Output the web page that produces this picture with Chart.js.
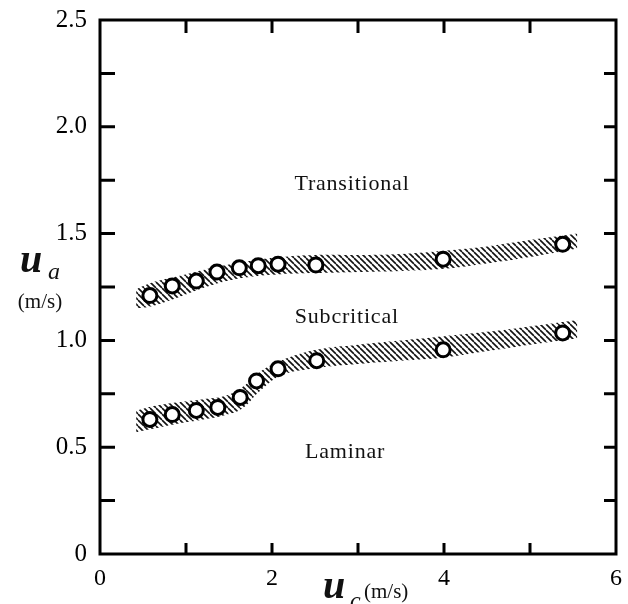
<!DOCTYPE html>
<html>
<head>
<meta charset="utf-8">
<script src="https://cdn.jsdelivr.net/npm/chart.js@4.4.1/dist/chart.umd.min.js"></script>
<style>
  body { margin: 0; background: #fff; }
  #wrap { width: 628px; height: 604px; }
</style>
</head>
<body>
<div id="wrap"><canvas id="chart" width="628" height="604"></canvas></div>
<script>
// measured points (u_c, u_a)
const upperX = [0.58, 0.84, 1.12, 1.36, 1.62, 1.84, 2.07, 2.51, 3.99, 5.38]
const upperY = [1.21, 1.255, 1.278, 1.32, 1.34, 1.35, 1.357, 1.353, 1.38, 1.45]
const lowerX = [0.58, 0.84, 1.12, 1.37, 1.63, 1.82, 2.07, 2.52, 3.99, 5.38]
const lowerY = [0.63, 0.653, 0.672, 0.686, 0.733, 0.81, 0.867, 0.905, 0.956, 1.035]

// hatched bands (edges)
const upperBandX = [0.42, 0.6, 0.9, 1.2, 1.5, 1.8, 2.1, 2.5, 3.0, 3.5, 4.0, 4.5, 5.0, 5.55]
const upperBandTop = [1.24, 1.27, 1.30, 1.33, 1.355, 1.375, 1.39, 1.40, 1.40, 1.405, 1.42, 1.44, 1.47, 1.50]
const upperBandBot = [1.15, 1.16, 1.20, 1.245, 1.28, 1.30, 1.31, 1.315, 1.32, 1.325, 1.335, 1.36, 1.39, 1.43]
const lowerBandX = [0.42, 0.6, 0.9, 1.2, 1.45, 1.65, 1.85, 2.1, 2.5, 3.0, 3.5, 4.0, 4.5, 5.0, 5.55]
const lowerBandTop = [0.67, 0.69, 0.71, 0.725, 0.74, 0.78, 0.85, 0.905, 0.955, 0.98, 1.0, 1.02, 1.04, 1.065, 1.095]
const lowerBandBot = [0.57, 0.585, 0.61, 0.63, 0.65, 0.68, 0.76, 0.835, 0.87, 0.89, 0.905, 0.92, 0.95, 0.98, 1.01]

// region labels
const regionNames = ['Transitional', 'Subcritical', 'Laminar']
const regionX = [2.93, 2.87, 2.85]
const regionY = [1.73, 1.11, 0.476]

// minor tick positions
const yTickVals = [0.25, 0.5, 0.75, 1.0, 1.25, 1.5, 1.75, 2.0, 2.25]
const xTickVals = [1, 2, 3, 4, 5]

function pts(xs, ys) {
    return xs.map((x, i) => ({x: x, y: ys[i]}))
}

function hatch() {
    const s = 6
    const c = document.createElement('canvas')
    c.width = s; c.height = s
    const g = c.getContext('2d')
    g.strokeStyle = '#111'
    g.lineWidth = 1.6
    for (let k = -s; k <= s; k += s) {
        g.beginPath()
        g.moveTo(k, 0)
        g.lineTo(k + s, s)
        g.stroke()
    }
    return g.createPattern(c, 'repeat')
}
const pattern = hatch()

function circleSet(xs, ys) {
    return {
        data: pts(xs, ys),
        showLine: false,
        pointRadius: 7,
        pointBorderWidth: 3,
        pointBorderColor: '#000',
        pointBackgroundColor: '#fff',
        order: 0
    }
}
function bandEdge(xs, ys, fill) {
    return {
        data: pts(xs, ys),
        showLine: true,
        borderWidth: 0,
        borderColor: 'rgba(0,0,0,0)',
        pointRadius: 0,
        tension: 0.4,
        fill: fill,
        backgroundColor: pattern,
        order: 5
    }
}

const serif = '"Liberation Serif", "DejaVu Serif", serif'

const decor = {
    id: 'decor',
    afterDatasetsDraw(chart) {
        const ctx = chart.ctx
        const a = chart.chartArea
        const xs = chart.scales.x, ys = chart.scales.y
        ctx.save()
        ctx.strokeStyle = '#000'
        ctx.lineWidth = 3
        ctx.strokeRect(a.left, a.top, a.right - a.left, a.bottom - a.top)
        ctx.beginPath()
        yTickVals.forEach(v => {
            const py = ys.getPixelForValue(v)
            ctx.moveTo(a.left, py); ctx.lineTo(a.left + 15, py)
            ctx.moveTo(a.right, py); ctx.lineTo(a.right - 12, py)
        })
        xTickVals.forEach(v => {
            const px = xs.getPixelForValue(v)
            ctx.moveTo(px, a.bottom); ctx.lineTo(px, a.bottom - 11)
            ctx.moveTo(px, a.top); ctx.lineTo(px, a.top + 13)
        })
        ctx.stroke()

        ctx.fillStyle = '#111'
        ctx.font = '22px ' + serif
        ctx.letterSpacing = '0.8px'
        ctx.textAlign = 'center'
        ctx.textBaseline = 'middle'
        regionNames.forEach((t, i) => {
            ctx.fillText(t, xs.getPixelForValue(regionX[i]), ys.getPixelForValue(regionY[i]))
        })
        ctx.letterSpacing = '0px'

        // axis titles
        ctx.textAlign = 'left'
        ctx.textBaseline = 'alphabetic'
        ctx.font = 'italic bold 40px ' + serif
        ctx.fillText('u', 20, 272)
        ctx.font = 'italic 24px ' + serif
        ctx.fillText('a', 48, 279)
        ctx.font = '21px ' + serif
        ctx.textAlign = 'center'
        ctx.fillText('(m/s)', 40, 308)

        ctx.textAlign = 'left'
        ctx.font = 'italic bold 40px ' + serif
        ctx.fillText('u', 323, 598)
        ctx.font = 'italic 24px ' + serif
        ctx.fillText('c', 350, 608)
        ctx.font = '21px ' + serif
        ctx.fillText('(m/s)', 364, 598)
        ctx.restore()
    }
}

new Chart(document.getElementById('chart'), {
    type: 'scatter',
    data: {
        datasets: [
            circleSet(upperX, upperY),
            circleSet(lowerX, lowerY),
            bandEdge(upperBandX, upperBandTop, '+1'),
            bandEdge(upperBandX, upperBandBot, false),
            bandEdge(lowerBandX, lowerBandTop, '+1'),
            bandEdge(lowerBandX, lowerBandBot, false)
        ]
    },
    options: {
        responsive: false,
        animation: false,
        layout: { padding: { top: 9, right: 12, left: 0, bottom: 0 } },
        plugins: { legend: { display: false }, tooltip: { enabled: false } },
        scales: {
            x: {
                type: 'linear', min: 0, max: 6,
                grid: { display: false },
                border: { display: false },
                afterFit: s => { s.height = 50 },
                ticks: {
                    stepSize: 2, padding: 2, color: '#000',
                    font: { family: serif, size: 24 },
                    callback: v => String(v)
                }
            },
            y: {
                type: 'linear', min: 0, max: 2.5,
                grid: { display: false },
                border: { display: false },
                afterFit: s => { s.width = 100 },
                ticks: {
                    stepSize: 0.5, padding: 5, color: '#000',
                    font: { family: serif, size: 25 },
                    callback: v => v === 0 ? '0' : v.toFixed(1)
                }
            }
        }
    },
    plugins: [decor]
})
</script>
</body>
</html>
